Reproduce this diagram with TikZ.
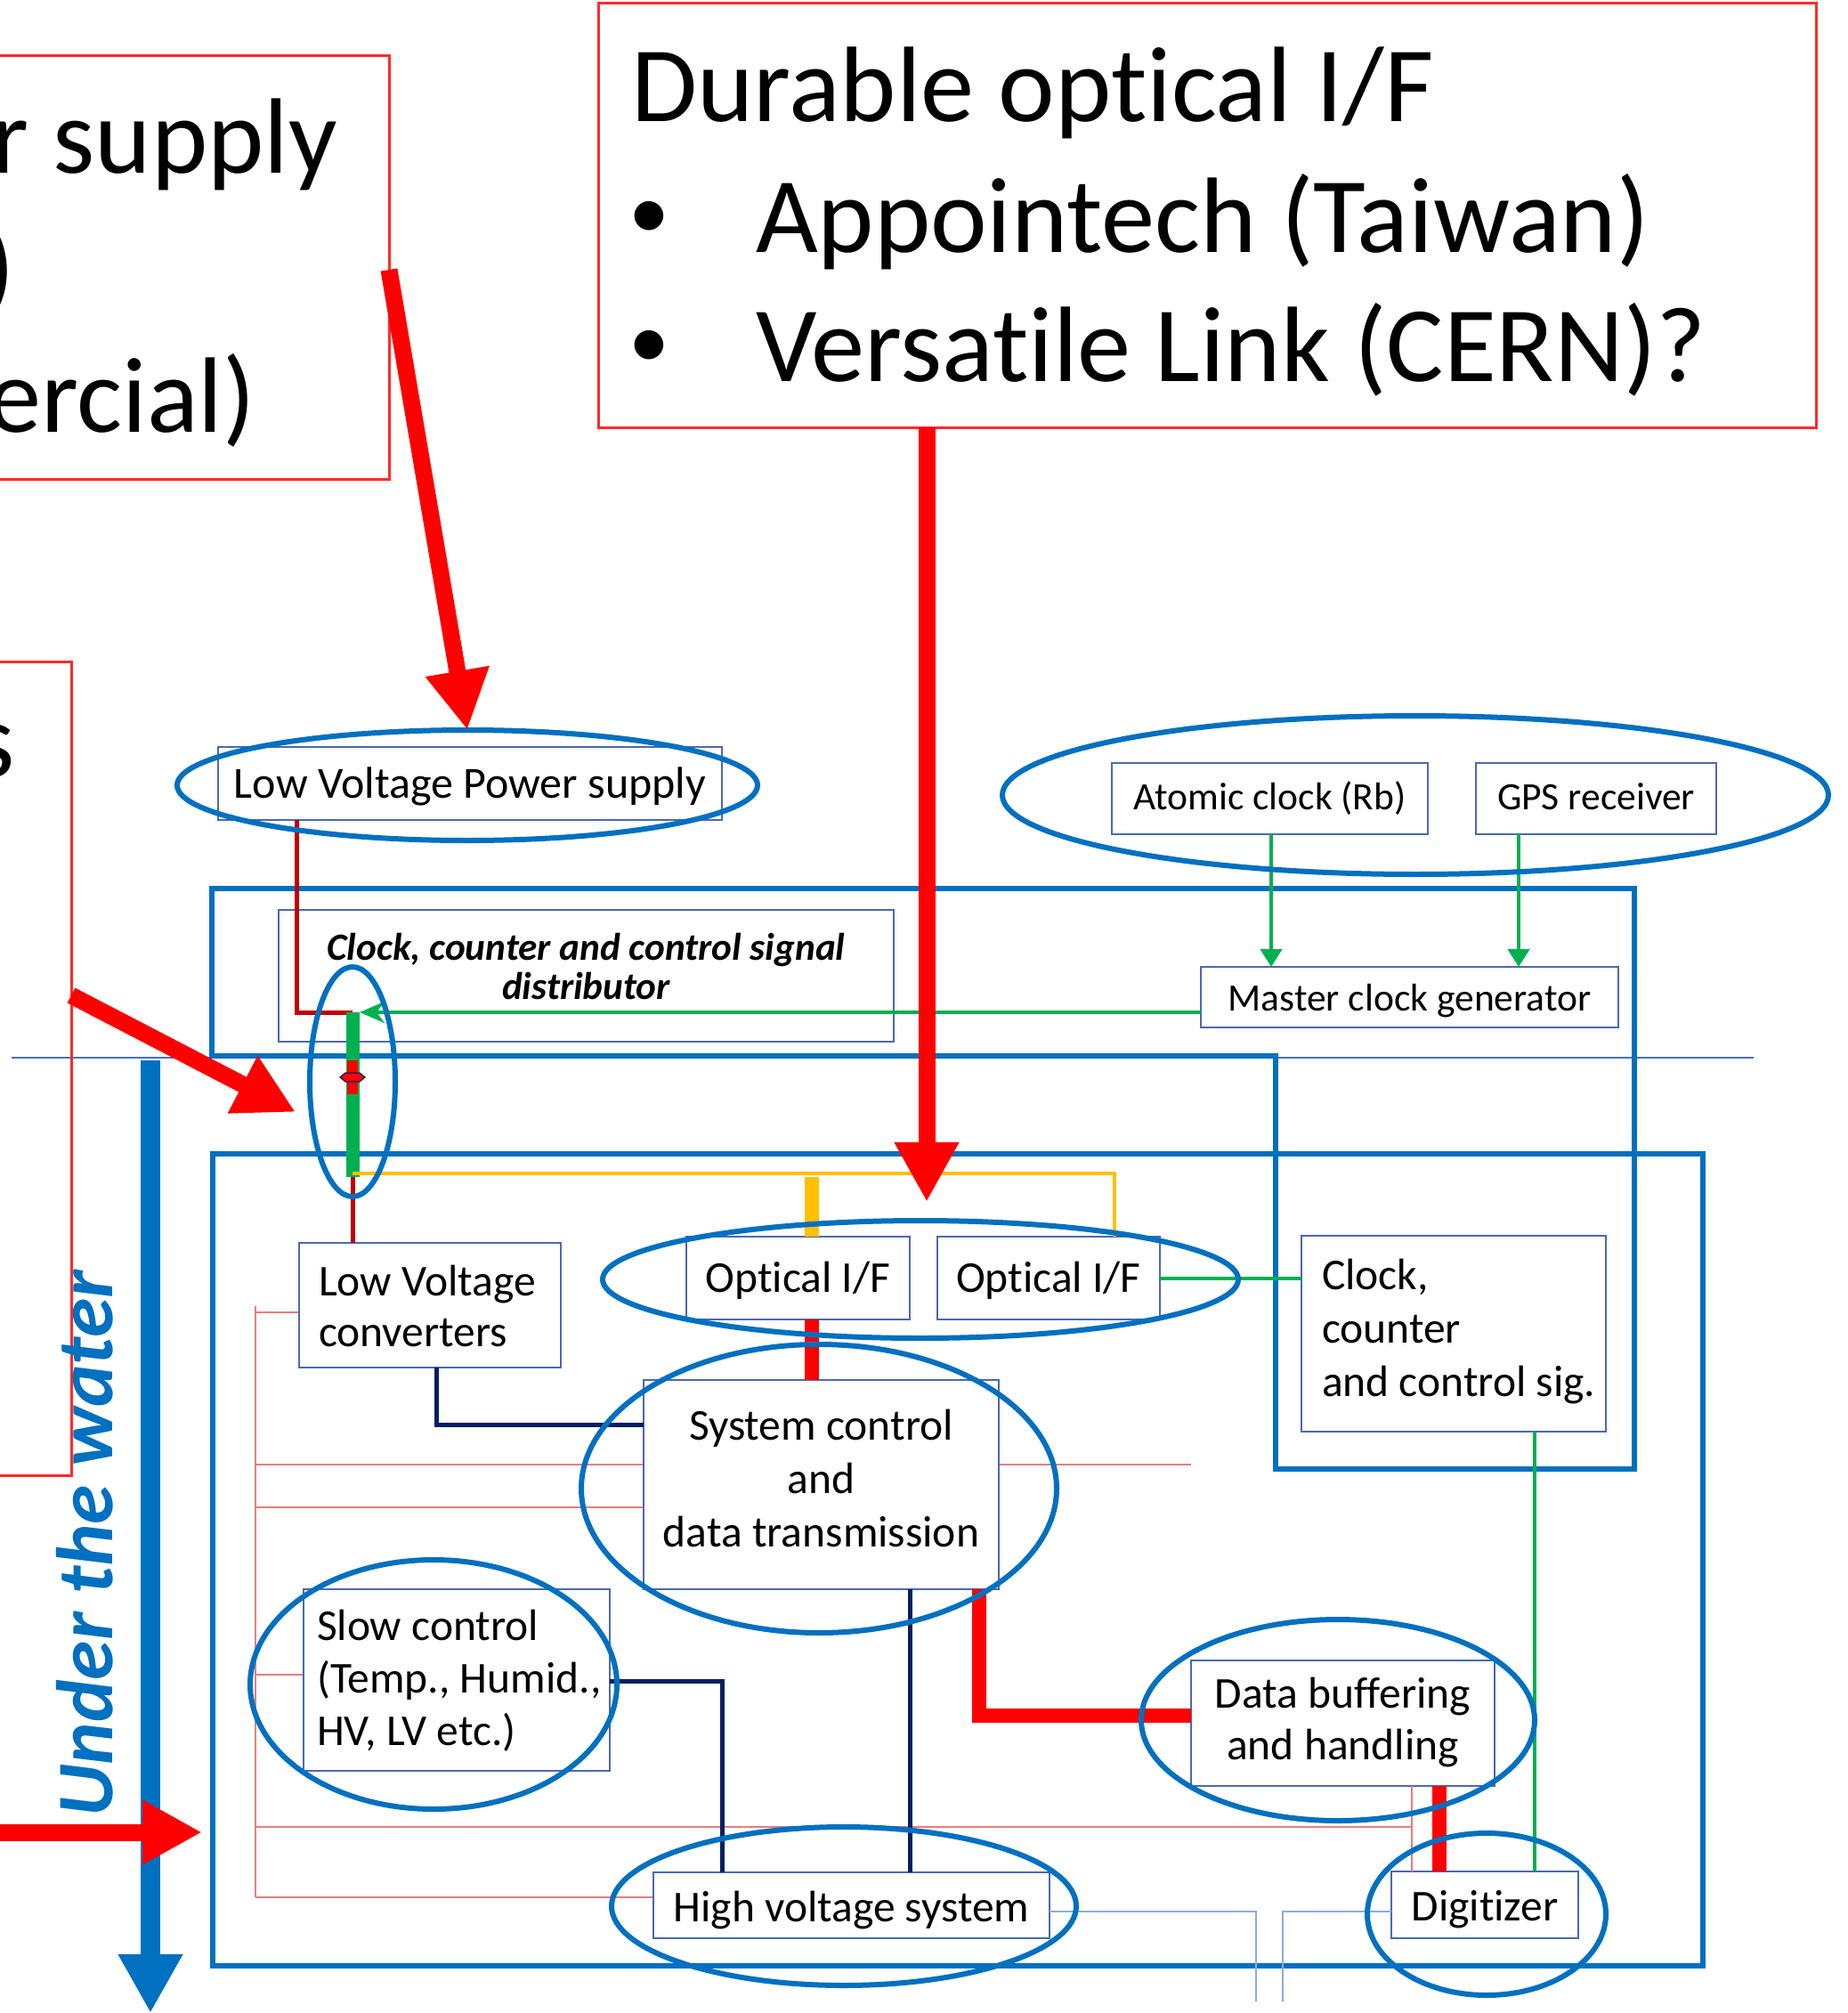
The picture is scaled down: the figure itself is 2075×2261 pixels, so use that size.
\documentclass[tikz,border=0pt]{standalone}
\usepackage{fontspec}
\setmainfont{Carlito}[Ligatures=NoCommon]
\usetikzlibrary{arrows.meta,shapes.geometric}
\newcommand{\pxfont}[2]{\fontsize{#1}{#2}\selectfont}
% keep the font's own word spacing inside wrapped node texts
\newcommand{\natsp}{\spaceskip=0pt\xspaceskip=0pt\relax}

\definecolor{frameblue}{HTML}{0070C0}
\definecolor{boxblue}{HTML}{4A69B0}
\definecolor{callred}{HTML}{FF2A2A}
\definecolor{arrred}{HTML}{FF0000}
\definecolor{pwrred}{HTML}{C00000}
\definecolor{sigred}{HTML}{FF0000}
\definecolor{clkgreen}{HTML}{00B050}
\definecolor{ctlyellow}{HTML}{FFC000}
\definecolor{ctlnavy}{HTML}{002060}
\definecolor{feedred}{HTML}{EE7B7B}
\definecolor{cableblue}{HTML}{8FAADC}
\definecolor{surfblue}{HTML}{4472C4}

\begin{document}
\begin{tikzpicture}[x=1pt,y=-1pt,
  hullframe/.style={draw=frameblue,line width=6pt},
  grp/.style={ellipse,draw=frameblue,line width=6pt,inner sep=0pt,outer sep=0pt},
  unitbox/.style={rectangle,draw=boxblue,line width=2.5pt,fill=white,inner sep=0pt,outer sep=0pt,font=\pxfont{49.5}{59}},
  smallbox/.style={unitbox,font=\pxfont{43.5}{52}},
  callbox/.style={rectangle,draw=callred,line width=3pt,inner sep=0pt,outer sep=0pt},
  bigtext/.style={inner sep=0pt,outer sep=0pt,font=\pxfont{120.5}{145}},
  bullettext/.style={inner sep=0pt,outer sep=0pt,font=\pxfont{92}{92}},
  callarrow/.style={draw=arrred,line width=19pt,-{Triangle[length=67pt,width=68pt]}},
  deparrow/.style={draw=frameblue,line width=22pt,-{Triangle[length=66pt,width=68pt]}},
  surface/.style={draw=surfblue,line width=2pt},
  feed/.style={draw=feedred,line width=2pt},
  cable/.style={draw=cableblue,line width=2pt},
  lvpower/.style={draw=pwrred,line width=5pt},
  clkbus/.style={draw=clkgreen,line width=15pt},
  clkline/.style={draw=clkgreen,line width=4.5pt},
  clkarrow/.style={clkline,-{Triangle[length=20pt,width=24pt]}},
  ctlline/.style={draw=ctlyellow,line width=3.5pt},
  ctlthick/.style={draw=ctlyellow,line width=16pt},
  datalink/.style={draw=sigred,line width=16pt},
  slowline/.style={draw=ctlnavy,line width=5pt},
]
\useasboundingbox (0,0) rectangle (2075,2261);
\fill[white] (0,0) rectangle (2075,2261);
\clip (0,0) rectangle (2075,2261);

% sea surface
\draw[surface] (13,1188) -- (1970,1188);

% surface station and underwater housing
\draw[hullframe] (238,998) -- (1836,998) -- (1836,1650) -- (1433,1650) -- (1433,1186) -- (238,1186) -- cycle;
\draw[hullframe] (239,1296) rectangle (1913,2208);

% functional blocks
\node[unitbox,font=\pxfont{50}{58},minimum width=566pt,minimum height=82pt,text height=40pt,text depth=8pt] (lvps) at (528,880) {Low Voltage Power supply};
\node[smallbox,minimum width=355pt,minimum height=80pt,text height=34pt,text depth=10pt] (atc) at (1426.5,897) {Atomic clock (Rb)};
\node[smallbox,minimum width=270pt,minimum height=80pt,text height=34pt,text depth=10pt] (gps) at (1793,897) {GPS receiver};
\node[smallbox,minimum width=469pt,minimum height=68pt,text height=38pt,text depth=8pt] (mcg) at (1583.5,1120) {Master clock generator};
\node[unitbox,font=\bfseries\itshape\pxfont{43.2}{44},minimum width=691pt,minimum height=148pt,text width=671pt,align=flush center,text height=35pt,text depth=71pt] (dist) at (658.5,1096) {\natsp\mbox{Clock, counter and control signal}\\\mbox{distributor}};

% thin supply feeders (drawn below the blocks)
\coordinate (f1) at (287,1474);
\coordinate (f2) at (287,1645);
\coordinate (f2e) at (1338,1645);
\coordinate (f3) at (287,1693);
\coordinate (f4) at (287,1881);
\coordinate (f5) at (287,2052);
\coordinate (f6) at (287,2131);
\coordinate (fv) at (1586,2052);
\draw[feed] (287,1467) -- (f6);
\draw[feed] (f1) -- (483,1474);
\draw[feed] (f2) -- (f2e);
\draw[feed] (f3) -- (723,1693);
\draw[feed] (f4) -- (341,1881);
\draw[feed] (f5) -- (fv);
\draw[feed] (f6) -- (734,2131);

\node[unitbox,minimum width=251pt,minimum height=93pt,text height=40pt,text depth=9pt] (opt1) at (896.5,1435.5) {Optical I/F};
\node[unitbox,minimum width=250pt,minimum height=93pt,text height=40pt,text depth=9pt] (opt2) at (1178,1435.5) {Optical I/F};
\node[unitbox,font=\pxfont{49.5}{60},minimum width=342pt,minimum height=220pt,text width=296pt,align=flush left,text height=40pt,text depth=140pt] (clk) at (1633,1498) {\natsp\mbox{Clock,}\\\mbox{counter}\\\mbox{and control sig.}};
\node[unitbox,font=\pxfont{49.5}{57},minimum width=294pt,minimum height=140pt,text width=250pt,align=flush left,text height=40pt,text depth=62pt] (lvc) at (483,1466) {\natsp\mbox{Low Voltage}\\\mbox{converters}};
\node[unitbox,font=\pxfont{49.5}{60},minimum width=399pt,minimum height=235pt,text width=379pt,align=flush center,text height=40pt,text depth=141pt] (sys) at (922.5,1667.5) {\natsp\mbox{System control}\\\mbox{and}\\\mbox{data transmission}};
\node[unitbox,font=\pxfont{49.5}{59},minimum width=344pt,minimum height=204pt,text width=314pt,align=flush left,text height=40pt,text depth=130pt] (slow) at (513,1887) {\natsp\mbox{Slow control}\\\mbox{(Temp., Humid.,}\\\mbox{HV, LV etc.)}};
\node[unitbox,font=\pxfont{49.5}{58},minimum width=341pt,minimum height=141pt,text width=321pt,align=flush center,text height=40pt,text depth=75pt] (dbh) at (1508.5,1935.5) {\natsp\mbox{Data buffering}\\\mbox{and handling}};
\node[unitbox,minimum width=445pt,minimum height=74pt,text height=44pt,text depth=8pt] (hv) at (956.5,2140) {High voltage system};
\node[unitbox,minimum width=210pt,minimum height=75pt,text height=43pt,text depth=8pt] (dig) at (1668,2139.5) {Digitizer};

% cables leaving the housing
\coordinate (cab1) at (1411,2147);
\coordinate (cab1b) at (1411,2248);
\coordinate (cab2) at (1441,2147);
\coordinate (cab2b) at (1441,2248);
\draw[cable] (hv.east |- cab1) -| (cab1b);
\draw[cable] (dig.west |- cab2) -| (cab2b);

% feeder into the digitizer
\draw[feed] (dbh.south -| fv) -- (dig.north -| fv);

% timing
\coordinate (g1) at (1428,0);
\coordinate (g2) at (1706,0);
\draw[clkarrow] (atc.south -| g1) -- (mcg.north -| g1);
\draw[clkarrow] (gps.south -| g2) -- (mcg.north -| g2);

% shore-to-sea bundle
\coordinate (bustop) at (396,1137);
\coordinate (busbot) at (396,1322);
\coordinate (pw1) at (333,0);
\coordinate (gtap) at (404,1137);
\draw[lvpower] (lvps.south -| pw1) |- (bustop);
\draw[clkbus] (bustop) -- (busbot);
\draw[clkline,-{Stealth[length=28pt,width=24pt]}] (mcg.west |- gtap) -- (gtap);
\draw[lvpower] (busbot) -- (lvc.north -| busbot);
\fill[sigred] (390,1191) rectangle (402,1229);
\draw[draw=ctlnavy,line width=1.2pt,fill=sigred] (382,1210) -- (388,1205) -- (404,1205) -- (410,1210) -- (404,1215) -- (388,1215) -- cycle;

% control lines
\coordinate (ytap) at (396,1318);
\coordinate (ycorner) at (1252,1318);
\coordinate (ystub) at (912,1322);
\draw[ctlline] (ytap) -| (opt2.north -| ycorner);
\draw[ctlthick] (ystub) -- (opt1.north -| ystub);

% data and signal links
\coordinate (gl2) at (0,1436);
\coordinate (n1) at (490,1600);
\coordinate (n2) at (811,1888);
\coordinate (n3) at (1022,0);
\coordinate (d1) at (1100,1927);
\coordinate (d2) at (1617,0);
\coordinate (g3) at (1724,0);
\draw[datalink] (opt1.south -| ystub) -- (sys.north -| ystub);
\draw[clkline] (opt2.east |- gl2) -- (clk.west |- gl2);
\draw[slowline] (lvc.south -| n1) |- (sys.west |- n1);
\draw[slowline] (slow.east |- n2) -| (hv.north -| n2);
\draw[slowline] (sys.south -| n3) -- (hv.north -| n3);
\draw[datalink] (sys.south -| d1) |- (dbh.west |- d1);
\draw[datalink] (dbh.south -| d2) -- (dig.north -| d2);
\draw[clkline] (clk.south -| g3) -- (dig.north -| g3);

% highlighted groups
\node[grp,minimum width=652pt,minimum height=124pt] (lvpsE) at (525,882) {};
\node[grp,minimum width=928pt,minimum height=178pt] (timeE) at (1590,893) {};
\node[grp,minimum width=96pt,minimum height=258pt] (connE) at (396,1215) {};
\node[grp,minimum width=714pt,minimum height=132pt] (optE) at (1034,1437) {};
\node[grp,minimum width=534pt,minimum height=324pt] (sysE) at (920,1672) {};
\node[grp,minimum width=412pt,minimum height=280pt] (slowE) at (487,1892) {};
\node[grp,minimum width=442pt,minimum height=226pt] (dbhE) at (1503,1932) {};
\node[grp,minimum width=522pt,minimum height=178pt] (hvE) at (948,2141) {};
\node[grp,minimum width=268pt,minimum height=182pt] (digE) at (1670,2150) {};

% remarks
\node[callbox,minimum width=460pt,minimum height=475pt,anchor=north east] (cbA) at (437,63) {};
\node[callbox,minimum width=1368pt,minimum height=476pt] (cbB) at (1356,242) {};
\node[callbox,minimum width=110pt,minimum height=914pt,anchor=north east] (cbC) at (80,743) {};

\node[bigtext,anchor=base east] (pa) at (379,195) {r supply};
\node[bigtext,anchor=base east] (pb) at (17,340) {)};
\node[bigtext,anchor=base east] (pc) at (287,485) {ercial)};
\node[bigtext,anchor=base east] (qa) at (17,872) {s};

\node[bigtext,anchor=base west] (ttl) at (709,137) {Durable optical I/F};
\node[bullettext,anchor=base] (bl1) at (729,268) {•};
\node[bigtext,anchor=base west] (it1) at (849,283) {Appointech (Taiwan)};
\node[bullettext,anchor=base] (bl2) at (729,413) {•};
\node[bigtext,anchor=base west] (it2) at (849,428) {Versatile Link (CERN)?};

\coordinate (a1) at (437,303);
\coordinate (a2s) at (80,1118);
\coordinate (a2e) at (332,1249);
\coordinate (a3) at (1041,1350);
\coordinate (a4s) at (-40,2058);
\coordinate (a4e) at (227,2058);
\coordinate (dtop) at (169,1191);
\coordinate (dbot) at (169,2261);

\draw[callarrow] (cbA.east |- a1) -- (lvpsE.north);
\draw[callarrow] (cbC.east |- a2s) -- (a2e);
\draw[callarrow] (cbB.south -| a3) -- (a3);

% depth indicator
\draw[deparrow] (dtop) -- (dbot);
\node[rotate=90,anchor=base west,inner sep=0pt,text=frameblue,font=\bfseries\itshape\pxfont{90}{90}] (uw) at (126,2041) {Under the water};
\draw[callarrow] (a4s) -- (a4e);
\end{tikzpicture}
\end{document}
